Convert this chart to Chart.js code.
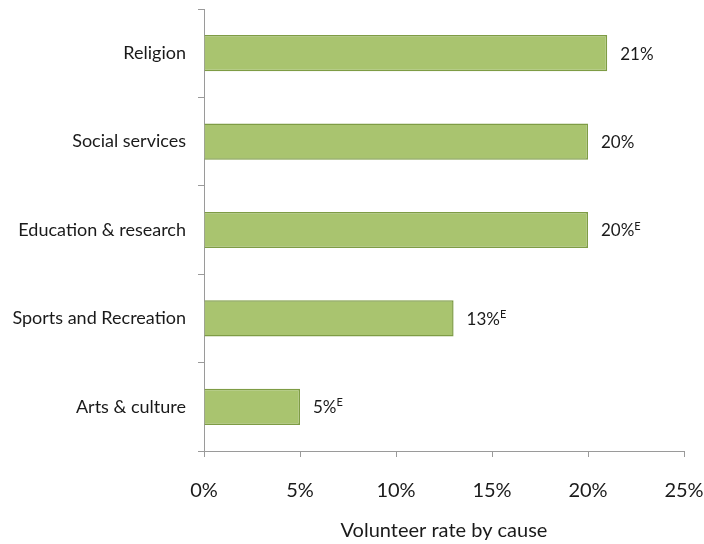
<!DOCTYPE html>
<html>
<head>
<meta charset="utf-8">
<script src="https://cdn.jsdelivr.net/npm/chart.js@4.4.1/dist/chart.umd.min.js"></script>
<style>
    html, body { margin: 0; padding: 0; background: #fff; }
    #wrap { width: 704px; height: 544px; }
</style>
</head>
<body>
<div id="wrap"><canvas id="causeChart" width="704" height="544"></canvas></div>
<script>
const causes = ["Religion", "Social services", "Education & research", "Sports and Recreation", "Arts & culture"];
const rates = [21, 20, 20, 13, 5];
// E = use with caution (estimate)
const estimateFlags = [false, false, true, true, true];
const xTicks = [0, 5, 10, 15, 20, 25];

const FONT = "Lato, 'Open Sans', sans-serif";

// value labels at the end of each bar, with a small superscript E
const barLabels = {
    id: "barLabels",
    afterDatasetsDraw(chart) {
        const ctx = chart.ctx;
        const meta = chart.getDatasetMeta(0);
        ctx.save();
        ctx.fillStyle = "#1a1a1a";
        ctx.textBaseline = "middle";
        ctx.textAlign = "left";
        meta.data.forEach(function (bar, i) {
            const txt = rates[i] + "%";
            const x = bar.x + 13;
            ctx.font = "17px " + FONT;
            ctx.fillText(txt, x, bar.y + 1);
            if (estimateFlags[i]) {
                const w = ctx.measureText(txt).width;
                ctx.font = "11px " + FONT;
                ctx.fillText("E", x + w, bar.y - 4);
            }
        });
        ctx.restore();
    }
};

new Chart(document.getElementById("causeChart").getContext("2d"), {
    type: "bar",
    data: {
        labels: causes,
        datasets: [{
            data: rates,
            backgroundColor: "#a9c46f",
            borderColor: "#7e9c45",
            borderWidth: 1.5,
            barPercentage: 0.41,
            categoryPercentage: 1
        }]
    },
    options: {
        indexAxis: "y",
        responsive: false,
        animation: false,
        layout: { padding: { top: 9, right: 20, left: 0, bottom: 0 } },
        plugins: {
            legend: { display: false },
            tooltip: { enabled: false }
        },
        scales: {
            x: {
                min: 0,
                max: 25,
                afterBuildTicks(axis) {
                    axis.ticks = xTicks.map(v => ({ value: v }));
                },
                afterFit(axis) {
                    axis.height = 93;
                    axis.paddingLeft = 0;
                    axis.paddingRight = 0;
                },
                border: { color: "#9a9a9a", width: 1 },
                grid: {
                    drawOnChartArea: false,
                    color: "#9a9a9a",
                    tickLength: 6
                },
                ticks: {
                    color: "#1a1a1a",
                    font: { family: FONT, size: 20 },
                    padding: 22,
                    callback: v => v + "%"
                },
                title: {
                    display: true,
                    text: "Volunteer rate by cause",
                    color: "#1a1a1a",
                    font: { family: FONT, size: 20 },
                    padding: { top: 10, bottom: 1 }
                }
            },
            y: {
                afterFit(axis) {
                    axis.width = 204;
                    axis.paddingTop = 0;
                    axis.paddingBottom = 0;
                },
                border: { color: "#9a9a9a", width: 1 },
                grid: {
                    drawOnChartArea: false,
                    color: "#9a9a9a",
                    tickLength: 6,
                    offset: true
                },
                ticks: {
                    color: "#1a1a1a",
                    font: { family: FONT, size: 18 },
                    padding: 12
                }
            }
        }
    },
    plugins: [barLabels]
});
</script>
</body>
</html>
